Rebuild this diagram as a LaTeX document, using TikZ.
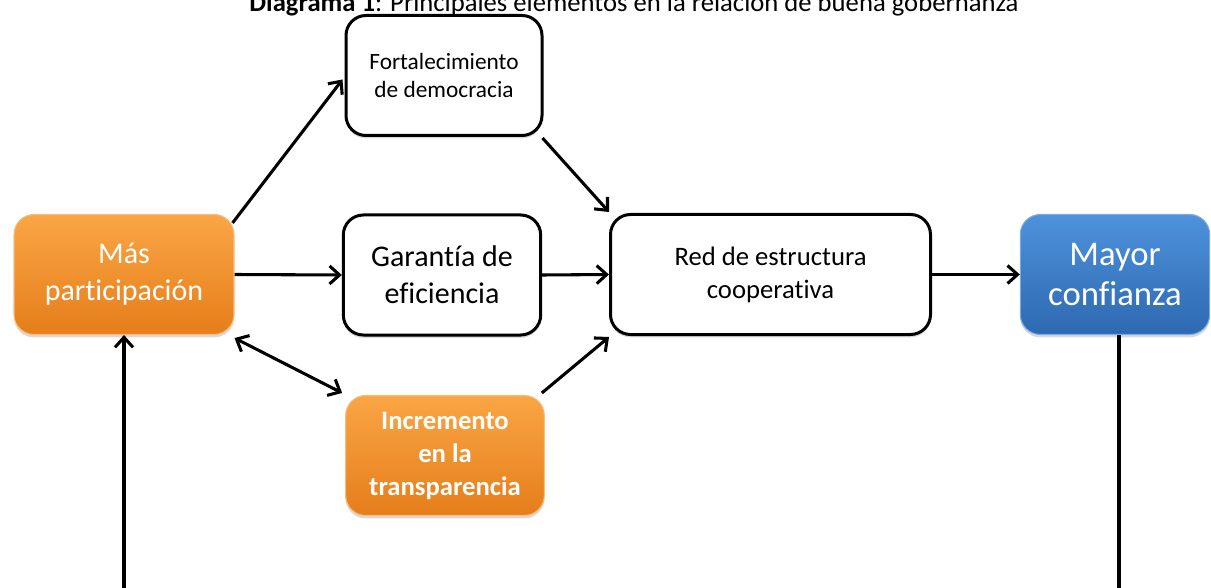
\documentclass[tikz,border=0pt]{standalone}
\usepackage{fontspec}
\setmainfont[Ligatures=CommonOff]{Carlito}
\usetikzlibrary{arrows.meta,shadows,calc}
\definecolor{otop}{HTML}{FAA545}
\definecolor{obot}{HTML}{E57E1A}
\definecolor{oborder}{HTML}{F8BD7A}
\definecolor{btop}{HTML}{4E92DC}
\definecolor{bbot}{HTML}{2D69B1}
\definecolor{bborder}{HTML}{78ACE4}
\begin{document}
\begin{tikzpicture}[x=0.75pt,y=-0.75pt,
  base/.style={rounded corners=15pt, align=center, inner sep=0pt,
    minimum height=90pt,
    drop shadow={opacity=0.3,shadow xshift=0pt,shadow yshift=-2.2pt}},
  wbox/.style={base, draw=black, line width=2.25pt, fill=white, text=black},
  obox/.style={base, draw=oborder, line width=0.8pt, top color=otop, bottom color=obot, text=white},
  bbox/.style={base, draw=bborder, line width=0.8pt, top color=btop, bottom color=bbot, text=white},
  tip/.style={Straight Barb[length=7.5pt,width=13.5pt,line width=2.3pt]},
  arr/.style={line width=2.3pt, line join=round, -{Straight Barb[length=7.5pt,width=13.5pt,line width=2.3pt]}},
  darr/.style={line width=2.3pt, line join=round, {Straight Barb[length=7.5pt,width=13.5pt,line width=2.3pt]}-{Straight Barb[length=7.5pt,width=13.5pt,line width=2.3pt]}}
]
\useasboundingbox (0,0) rectangle (1211,588);
\clip (0,0) rectangle (1211,588);

\node[anchor=base, font=\fontsize{20}{22}\selectfont] (title) at (634,12)
  {\textbf{Diagrama 1}: Principales elementos en la relación de buena gobernanza};

\node[wbox, minimum width=147pt, font=\fontsize{17.5}{20.5}\selectfont] (F) at (444,75.5)
  {Fortalecimiento\\de democracia};
\node[obox, minimum width=165pt, font=\fontsize{22.5}{27.75}\selectfont] (mas) at (124,274.5)
  {Más\\participación};
\node[wbox, minimum width=148pt, font=\fontsize{22.5}{27.75}\selectfont] (G) at (442,275)
  {Garantía de\\eficiencia};
\node[wbox, minimum width=240pt, font=\fontsize{20}{24.75}\selectfont] (red) at (770.5,274.5)
  {Red de estructura\\cooperativa};
\node[bbox, minimum width=142pt, font=\fontsize{26}{30}\selectfont] (mayor) at (1115,274.5)
  {Mayor\\confianza};
\node[obox, minimum width=149pt, font=\bfseries\fontsize{20}{24.75}\selectfont] (inc) at (445,455.5)
  {Incremento\\en la\\transparencia};

\draw[arr] ($(mas.north east)+(-2,9)$) -- ($(F.west)+(-2,4)$);
\draw[arr] (mas.east) -- (G.west);
\draw[darr] ($(mas.south east)+(0,3)$) -- ($(inc.north west)+(-3,-2)$);
\draw[arr] ($(F.south east)+(-1,1)$) -- ($(red.north west)+(0,-1)$);
\draw[arr] (G.east) -- (red.west);
\draw[arr] ($(inc.north east)+(-3,-2)$) -- ($(red.south west)+(0,1)$);
\draw[arr] (red.east) -- (mayor.west);
\draw[arr] ([xshift=3pt]mayor.south) -- ++(0,256) -| (mas.south);
\end{tikzpicture}
\end{document}
